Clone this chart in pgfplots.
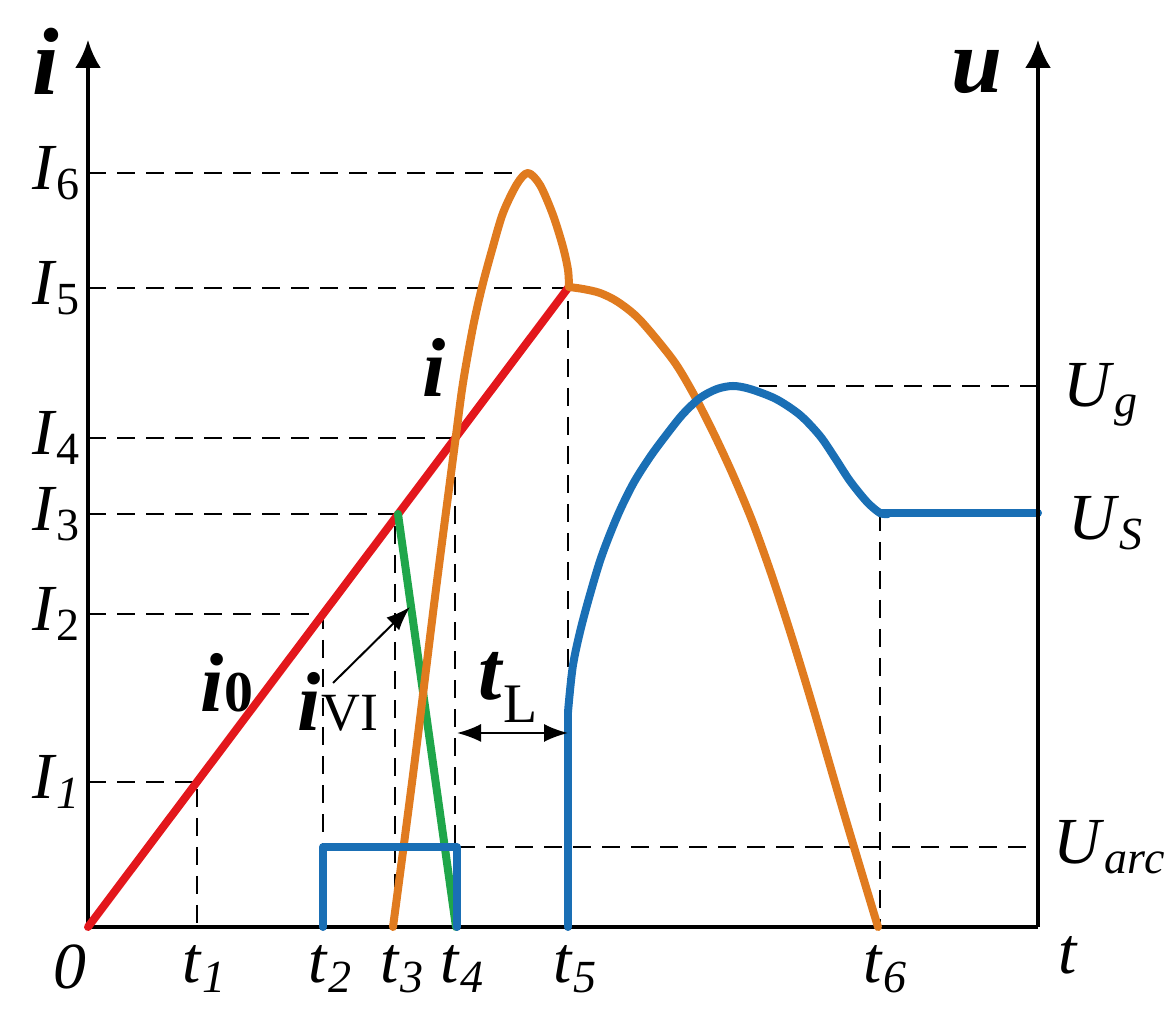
\documentclass[border=0pt]{standalone}
\usepackage{fontspec}
\setmainfont{Liberation Serif}
\usepackage{pgfplots}
\pgfplotsset{compat=1.18}
\usetikzlibrary{arrows.meta}
\definecolor{ired}{HTML}{E3171C}
\definecolor{iorange}{HTML}{E07B1F}
\definecolor{igreen}{HTML}{1FA64A}
\definecolor{ublue}{HTML}{1A6FB5}
\newcommand{\lab}[2]{\textit{#1}\textsubscript{#2}}

\begin{document}
\begin{tikzpicture}[font=\fontsize{16.5}{18}\selectfont]
\begin{axis}[x=0.25bp,y=0.25bp,xmin=0,xmax=950,ymin=0,ymax=887,
  axis lines=left,axis line style={line width=1bp},
  x axis line style={-},
  y axis line style={-{Latex[length=7bp,width=6.5bp]}},
  clip=false,major tick length=0pt,
  xtick={109,235,307,367,480,790},
  xticklabels={\lab{t}{\textit{1}},\lab{t}{\textit{2}},\lab{t}{\textit{3}},\lab{t}{\textit{4}},\lab{t}{\textit{5}},\lab{t}{\textit{6}}},
  ytick={145,313,413,489,639,754},
  yticklabels={\lab{I}{\textit{1}},\lab{I}{2},\lab{I}{3},\lab{I}{4},\lab{I}{5},\lab{I}{6}},
  tick label style={font=\fontsize{16.5}{18}\selectfont},
  xticklabel style={yshift=-1bp,xshift=2bp},
  yticklabel style={xshift=2bp},
  thin dash/.style={black,line width=0.55bp,dash pattern=on 4.5bp off 2.75bp},
  curve/.style={line width=2bp,line cap=round,line join=round},
]
% guide lines
\addplot[thin dash] coordinates {(0,145) (109,145) (109,0)};
\addplot[thin dash] coordinates {(0,313) (235,313) (235,0)};
\addplot[thin dash] coordinates {(0,413) (307,413) (307,0)};
\addplot[thin dash] coordinates {(0,489) (367,489) (367,0)};
\addplot[thin dash] coordinates {(0,639) (480,639) (480,0)};
\addplot[thin dash] coordinates {(0,754) (440,754)};
\addplot[thin dash] coordinates {(642,541) (950,541)};
\addplot[thin dash] coordinates {(369,80) (950,80)};
\addplot[thin dash] coordinates {(792,414) (792,0)};

% i0
\addplot[curve,ired] coordinates {(0,0) (480,639)};
% iVI
\addplot[curve,igreen] coordinates {(310,413) (368,0)};
% i
\addplot[curve,iorange,smooth] coordinates {
(305,0) (326,160) (347,330) (367,484) (375,544) (385,600) (394,640)
(404,677) (415,714) (429,743) (440,754) (452,742) (465,712) (475,680)
(480,657) (481,640)};
\addplot[curve,iorange,smooth] coordinates {
(481,640) (495,638) (512,634) (530,625) (552,607) (585,567) (605,534)
(625,495) (645,452) (665,404) (685,348) (705,286) (725,220) (757,110)
(790,0)};
% u
\addplot[curve,ublue] coordinates {(235,0) (235,80) (369,80) (369,0)};
\addplot[curve,ublue] coordinates {(480,0) (480,215)};
\addplot[curve,ublue,smooth] coordinates {
(480,215) (485,262) (495,307) (512,366) (529,410) (545,443) (562,470)
(579,493) (595,513) (612,529) (629,538) (645,541) (662,538)
(688,528) (712,512) (732,491) (747,469) (762,446) (779,425) (792,414)
(800,413)};
\addplot[curve,ublue] coordinates {(792,414) (950,414)};

% right axis
\draw[line width=1bp,-{Latex[length=7bp,width=6.5bp]}] (axis cs:950,0) -- (axis cs:950,887);

% labels
\node at (axis cs:-42,866) {\fontsize{24}{26}\selectfont\textbf{\textit{i}}};
\node at (axis cs:889,855) {\fontsize{23}{26}\selectfont\textbf{\textit{u}}};
\node at (axis cs:-18,-40) {\textit{0}};
\node at (axis cs:980,-28) {\textit{t}};
\node[anchor=west,inner sep=0pt] at (axis cs:975,532) {\lab{U}{\textit{g}}};
\node[anchor=west,inner sep=0pt] at (axis cs:980,404) {\lab{U}{\textit{S}}};
\node[anchor=west,inner sep=0pt] at (axis cs:965,80) {\lab{U}{\textit{arc}}};
\node at (axis cs:346,560) {\fontsize{21}{24}\selectfont\textbf{\textit{i}}};
\node at (axis cs:139,244) {\fontsize{21}{24}\selectfont\textbf{\textit{i}}{\fontsize{14.5}{16}\selectfont\textbf{0}}};
\node at (axis cs:250,225) {\fontsize{21}{24}\selectfont\textbf{\textit{i}}{\fontsize{13.5}{16}\selectfont VI}};
\node at (axis cs:420,240) {\fontsize{21}{24}\selectfont\textbf{\textit{t}}\raisebox{-0.6ex}{\fontsize{14}{16}\selectfont L}};
\draw[line width=0.5bp,-{Latex[length=6bp,width=4.5bp]}] (axis cs:245,244) -- (axis cs:322,320);
\draw[line width=0.5bp,{Latex[length=6bp,width=4.5bp]}-{Latex[length=6bp,width=4.5bp]}] (axis cs:369,194) -- (axis cs:480,194);

\coordinate (bl) at (axis cs:-88,-100);
\coordinate (tr) at (axis cs:1086,927);
\end{axis}
\pgfresetboundingbox
\path (bl) rectangle (tr);
\end{tikzpicture}
\end{document}
